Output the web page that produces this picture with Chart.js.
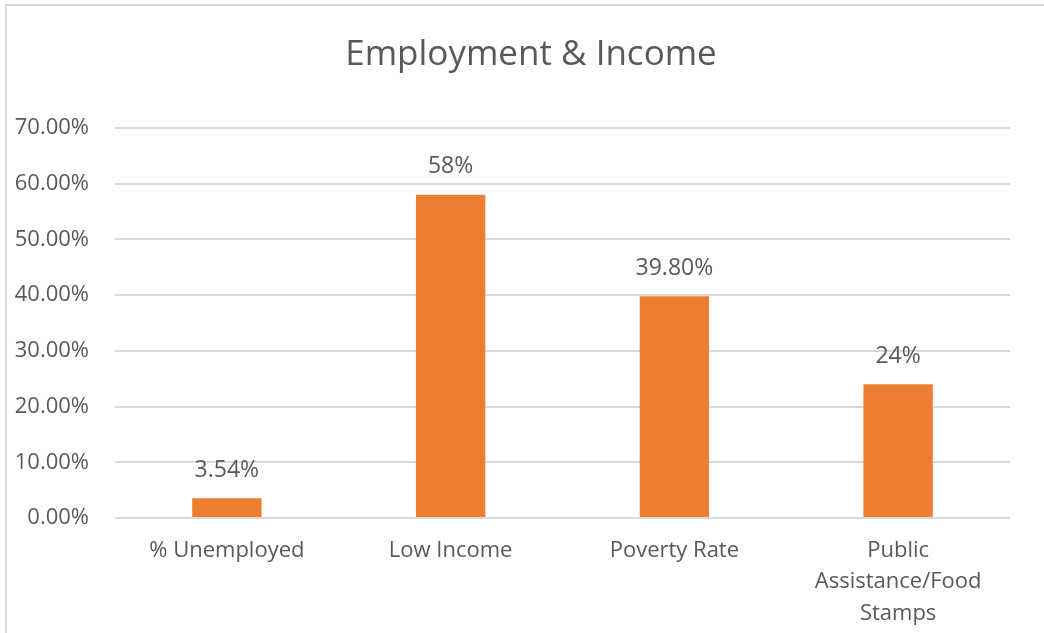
<!DOCTYPE html>
<html>
<head>
<meta charset="utf-8">
<script src="https://cdn.jsdelivr.net/npm/chart.js@4"></script>
<style>
  html, body { margin: 0; padding: 0; background: #fff; }
  #wrap { position: relative; width: 1044px; height: 633px; }
  #frame { position: absolute; left: 5px; top: 4px; right: 0; bottom: 0;
           border-left: 2px solid #d9d9d9; border-top: 2px solid #d9d9d9; }
  canvas { position: absolute; left: 0; top: 0; }
</style>
</head>
<body>
<div id="wrap">
  <div id="frame"></div>
  <canvas id="barChart" width="1044" height="633"></canvas>
</div>
<script>
        // Data
        var categories = ['% Unemployed', 'Low Income', 'Poverty Rate', ['Public', 'Assistance/Food', 'Stamps']];
        var values = [3.54, 58, 39.8, 24];
        var valueLabels = ['3.54%', '58%', '39.80%', '24%'];
        var yTicks = [0, 10, 20, 30, 40, 50, 60, 70];
        var chartTitle = 'Employment & Income';

        var textColor = '#595959';
        var fontFamily = "'Open Sans', 'Noto Sans', sans-serif";

        // title (centred on the whole frame) and the value above each bar
        var labelPlugin = {
            id: 'valueLabels',
            afterDatasetsDraw: function (chart) {
                var ctx = chart.ctx;
                var meta = chart.getDatasetMeta(0);
                ctx.save();
                ctx.fillStyle = textColor;
                ctx.textAlign = 'center';
                ctx.textBaseline = 'middle';
                ctx.font = '35px ' + fontFamily;
                ctx.fillText(chartTitle, 531, 55);
                ctx.font = '23px ' + fontFamily;
                meta.data.forEach(function (bar, i) {
                    ctx.fillText(valueLabels[i], bar.x, bar.y - 28);
                });
                ctx.restore();
            }
        };

        var ctx = document.getElementById('barChart').getContext('2d');
        var barChart = new Chart(ctx, {
            type: 'bar',
            data: {
                labels: categories,
                datasets: [{
                    data: values,
                    backgroundColor: '#ED7D31',
                    categoryPercentage: 1,
                    barPercentage: 0.31
                }]
            },
            options: {
                responsive: false,
                animation: false,
                layout: { padding: { top: 128, left: 0, right: 34, bottom: 0 } },
                plugins: {
                    legend: { display: false },
                    tooltip: { enabled: false },
                    title: { display: false }
                },
                scales: {
                    x: {
                        grid: { display: false },
                        border: { display: false },
                        ticks: {
                            color: textColor,
                            font: { family: fontFamily, size: 22, lineHeight: 1.43 },
                            padding: 9,
                            maxRotation: 0,
                            autoSkip: false
                        },
                        afterFit: function (scale) { scale.height = 115; }
                    },
                    y: {
                        min: 0,
                        max: 70,
                        afterBuildTicks: function (scale) {
                            scale.ticks = yTicks.map(function (v) { return { value: v }; });
                        },
                        grid: { color: '#d9d9d9', lineWidth: 2, drawTicks: false },
                        border: { display: false },
                        ticks: {
                            color: textColor,
                            font: { family: fontFamily, size: 22 },
                            padding: 26,
                            callback: function (v) { return v.toFixed(2) + '%'; }
                        },
                        afterFit: function (scale) { scale.width = 115; }
                    }
                }
            },
            plugins: [labelPlugin]
        });
</script>
</body>
</html>
